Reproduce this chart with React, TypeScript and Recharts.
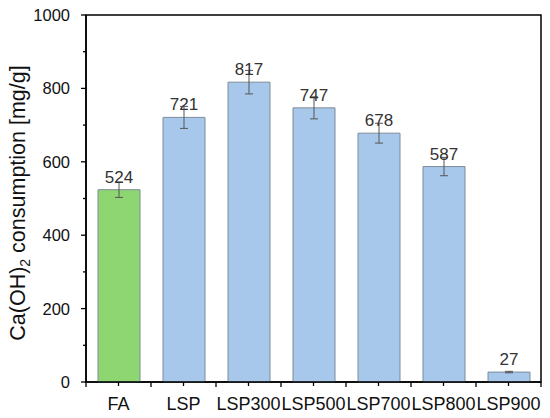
import React from 'react';
import { BarChart, Bar, XAxis, YAxis, Cell, ErrorBar, LabelList, ReferenceArea } from 'recharts';

const categories = ['FA', 'LSP', 'LSP300', 'LSP500', 'LSP700', 'LSP800', 'LSP900'];
const consumption = [524, 721, 817, 747, 678, 587, 27];
const errors = [21, 30, 32, 30, 27, 25, 2];
const yTicks = [0, 100, 200, 300, 400, 500, 600, 700, 800, 900, 1000];

const data = categories.map((name, i) => ({ name, value: consumption[i], err: errors[i] }));

const FONT = '"Liberation Sans", Arial, Helvetica, sans-serif';
const GREEN = '#8dd672';
const BLUE = '#a7c8eb';

const YTick = (props: any) => {
  const { x, y, payload } = props;
  const major = payload.value % 200 === 0;
  return (
    <g>
      <line x1={x - (major ? 5 : 3)} y1={y} x2={x} y2={y} stroke="#000" strokeWidth={1.3} />
      {major && (
        <text x={x - 16} y={y + 6} textAnchor="end" fontSize={16.5} fontFamily={FONT} fill="#111">
          {payload.value}
        </text>
      )}
    </g>
  );
};

const XTick = (props: any) => {
  const { x, y, payload, index, visibleTicksCount } = props;
  const half = 65 / 2;
  const last = index === (visibleTicksCount ?? categories.length) - 1;
  return (
    <g>
      <line x1={x} y1={y} x2={x} y2={y + 4} stroke="#000" strokeWidth={1.3} />
      <line x1={x - half} y1={y} x2={x - half} y2={y + 5} stroke="#000" strokeWidth={1.3} />
      {last && <line x1={x + half} y1={y} x2={x + half} y2={y + 5} stroke="#000" strokeWidth={1.3} />}
      <text x={x} y={y + 28} textAnchor="middle" fontSize={18} fontFamily={FONT} fill="#111">
        {payload.value}
      </text>
    </g>
  );
};

const YLabel = () => (
  <text
    x={25}
    y={203}
    transform="rotate(-90, 25, 203)"
    textAnchor="middle"
    fontSize={21.5}
    fontFamily={FONT}
    fill="#111"
  >
    <tspan>Ca(OH)</tspan>
    <tspan fontSize={14} dy={5}>2</tspan>
    <tspan dy={-5}> consumption [mg/g]</tspan>
  </text>
);

export default function App() {
  return (
    <div style={{ position: 'absolute', left: 0, top: 0, width: 550, height: 418, background: '#fff' }}>
      <BarChart
        width={550}
        height={418}
        data={data}
        margin={{ top: 15, right: 9, bottom: 0, left: 0 }}
        barSize={42}
      >
        <XAxis
          dataKey="name"
          height={36}
          tickSize={0}
          tickMargin={0}
          tickLine={false}
          interval={0}
          tick={<XTick />}
          axisLine={{ stroke: '#000', strokeWidth: 1.5 }}
        />
        <YAxis
          width={86}
          domain={[0, 1000]}
          ticks={yTicks}
          interval={0}
          tickSize={0}
          tickMargin={0}
          tickLine={false}
          tick={<YTick />}
          axisLine={{ stroke: '#000', strokeWidth: 1.5 }}
          label={<YLabel />}
        />
        <ReferenceArea
          y1={0}
          y2={1000}
          fill="none"
          fillOpacity={0}
          stroke="#000"
          strokeWidth={1.5}
          ifOverflow="visible"
        />
        <Bar dataKey="value" stroke="#7d8b99" strokeWidth={1} isAnimationActive={false}>
          {data.map((d, i) => (
            <Cell key={d.name} fill={i === 0 ? GREEN : BLUE} />
          ))}
          <LabelList dataKey="value" position="top" offset={7} fontSize={17} fontFamily={FONT} fill="#333" />
          <ErrorBar dataKey="err" width={4} stroke="#555" strokeWidth={1} direction="y" />
        </Bar>
      </BarChart>
    </div>
  );
}
